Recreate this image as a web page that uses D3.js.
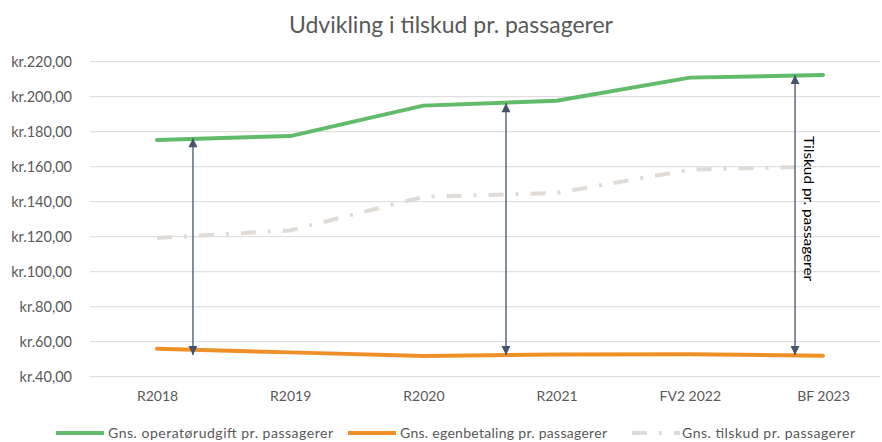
<!DOCTYPE html>
<html>
<head>
<meta charset="utf-8">
<script src="https://cdn.jsdelivr.net/npm/d3@7"></script>
<style>
  body { margin: 0; background: #fff; }
  text { font-family: Lato, "Open Sans", sans-serif; }
</style>
</head>
<body>
<svg id="chart" width="882" height="442"></svg>
<script>
// data
const categories = ["R2018", "R2019", "R2020", "R2021", "FV2 2022", "BF 2023"];
const operatorCost = [175.3, 177.5, 194.9, 197.7, 210.9, 212.4];
const ownPayment = [56.0, 53.9, 51.8, 52.7, 52.8, 52.0];
const subsidy = [119.3, 123.6, 142.8, 145.0, 158.3, 160.2];
const yTicks = [40, 60, 80, 100, 120, 140, 160, 180, 200, 220];
const seriesNames = ["Gns. operatørudgift pr. passagerer", "Gns. egenbetaling pr. passagerer", "Gns. tilskud pr. passagerer"];
// arrows: position as category index, from / to value
const arrowPos = [0.27, 2.62, 4.79];
const arrowTop = [176.3, 196.3, 212.4];
const arrowBottom = [52.4, 52.4, 52.4];
const arrowLabel = "Tilskud pr. passagerer";

const svg = d3.select("#chart");
const colors = ["#62bb6a", "#ee9027", "#e0dbd6"];
const series = [operatorCost, ownPayment, subsidy];

var x = d3.scalePoint().domain(categories).range([157, 823]);
var xi = d3.scaleLinear().domain([0, categories.length - 1]).range([157, 823]);
var y = d3.scaleLinear().domain([40, 220]).range([376.7, 61.7]);

var loc = d3.formatLocale({decimal: ",", thousands: ".", grouping: [3], currency: ["kr.", ""]});
var fmt = loc.format("$.2f");

// title
svg.append("text")
  .attr("x", 451).attr("y", 33)
  .attr("text-anchor", "middle")
  .attr("font-size", 23)
  .attr("fill", "#595959")
  .text("Udvikling i tilskud pr. passagerer");

// gridlines
svg.append("g")
  .selectAll("line")
  .data(yTicks)
  .enter().append("line")
  .attr("x1", 90).attr("x2", 880)
  .attr("y1", d => y(d)).attr("y2", d => y(d))
  .attr("stroke", "#d9d9d9").attr("stroke-width", 1);

// y axis
var yAxis = svg.append("g")
  .attr("transform", "translate(72,0)")
  .call(d3.axisLeft(y).tickValues(yTicks).tickFormat(fmt).tickSize(0).tickPadding(0));
yAxis.select(".domain").remove();
yAxis.selectAll("text")
  .attr("font-size", 14.5).attr("fill", "#595959")
  .style("font-family", "Lato, sans-serif");

// x axis
var xAxis = svg.append("g")
  .attr("transform", "translate(0,391)")
  .call(d3.axisBottom(x).tickSize(0).tickPadding(0));
xAxis.select(".domain").remove();
xAxis.selectAll("text")
  .attr("font-size", 14).attr("fill", "#595959")
  .style("font-family", "Lato, sans-serif");

// lines
var line = d3.line().x((d, i) => x(categories[i])).y(d => y(d));
svg.selectAll(".series")
  .data(series)
  .enter().append("path")
  .attr("class", "series")
  .attr("d", d => line(d))
  .attr("fill", "none")
  .attr("stroke", (d, i) => colors[i])
  .attr("stroke-width", 4)
  .attr("stroke-linejoin", "round")
  .attr("stroke-linecap", (d, i) => i == 2 ? "butt" : "round")
  .attr("stroke-dasharray", (d, i) => i == 2 ? "15,12,3,12" : null);

// arrows
var defs = svg.append("defs");
["start", "end"].forEach(function (k) {
  defs.append("marker")
    .attr("id", "arrow-" + k)
    .attr("viewBox", "0 0 10 10")
    .attr("refX", 10).attr("refY", 5)
    .attr("markerWidth", 10).attr("markerHeight", 9)
    .attr("markerUnits", "userSpaceOnUse")
    .attr("orient", k == "start" ? "auto-start-reverse" : "auto")
    .append("path")
    .attr("d", "M0,0 L10,5 L0,10 Z")
    .attr("fill", "#44546a");
});

svg.append("g")
  .selectAll("line")
  .data(arrowPos)
  .enter().append("line")
  .attr("x1", d => xi(d)).attr("x2", d => xi(d))
  .attr("y1", (d, i) => y(arrowTop[i]))
  .attr("y2", (d, i) => y(arrowBottom[i]))
  .attr("stroke", "#44546a").attr("stroke-width", 1.3)
  .attr("marker-start", "url(#arrow-start)")
  .attr("marker-end", "url(#arrow-end)");

// vertical label by last arrow
var lx = xi(arrowPos[2]) + 9, ly = y(177.5);
svg.append("text")
  .attr("transform", "translate(" + lx + "," + ly + ") rotate(90)")
  .attr("font-size", 14)
  .attr("fill", "#000")
  .attr("textLength", 145)
  .attr("lengthAdjust", "spacingAndGlyphs")
  .text(arrowLabel);

// legend
var legendX = [56, 348, 632];
var legendW = [225, 207, 173];
var leg = svg.append("g").attr("transform", "translate(0,433)");
var item = leg.selectAll("g")
  .data(seriesNames)
  .enter().append("g")
  .attr("transform", (d, i) => "translate(" + legendX[i] + ",0)");
item.append("line")
  .attr("x1", 0).attr("x2", 48).attr("y1", 0).attr("y2", 0)
  .attr("stroke", (d, i) => colors[i])
  .attr("stroke-width", 4)
  .attr("stroke-dasharray", (d, i) => i == 2 ? "15,12,3,12" : null);
item.append("text")
  .attr("x", (d, i) => i == 2 ? 50 : 52).attr("y", 0)
  .attr("dy", "0.35em")
  .attr("font-size", 14)
  .attr("fill", "#595959")
  .attr("textLength", (d, i) => legendW[i])
  .attr("lengthAdjust", "spacing")
  .text(d => d);
</script>
</body>
</html>
